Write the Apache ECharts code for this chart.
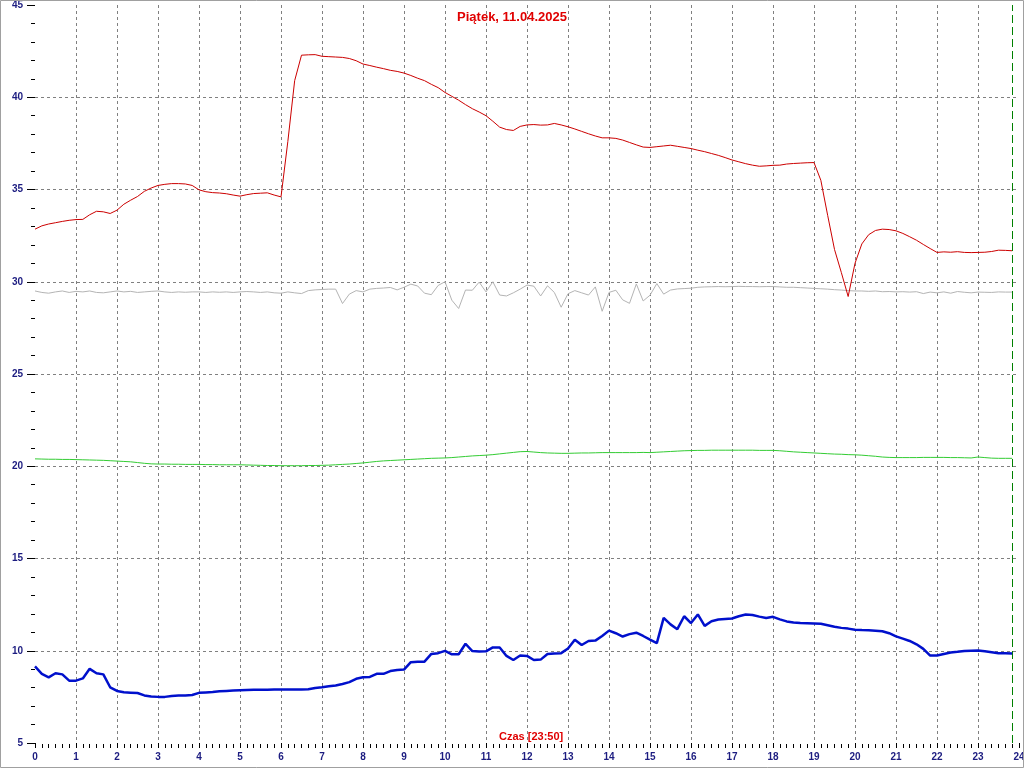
<!DOCTYPE html>
<html>
<head>
<meta charset="utf-8">
<script src="https://cdn.jsdelivr.net/npm/echarts@6/dist/echarts.min.js"></script>
<style>
html,body{margin:0;padding:0;background:#fff}
#c{width:1024px;height:768px}
</style>
</head>
<body>
<div id="c"></div>
<script>
const titleText = 'Piątek, 11.04.2025';
const timeAxisTitle = 'Czas [23:50]';
const unitLabel = '°C';
const stepMinutes = 10;
const nowHour = 23 + 50 / 60;

const redValues = [
32.85,33.03,33.13,33.2,33.27,33.33,
33.37,33.38,33.63,33.82,33.79,33.7,
33.88,34.2,34.42,34.62,34.9,35.08,
35.22,35.28,35.32,35.32,35.3,35.22,
34.98,34.88,34.83,34.81,34.77,34.7,
34.64,34.72,34.78,34.8,34.82,34.7,
34.6,37.6,40.9,42.28,42.3,42.31,
42.22,42.2,42.18,42.16,42.1,41.98,
41.8,41.72,41.63,41.55,41.46,41.4,
41.31,41.18,41.03,40.9,40.7,40.52,
40.26,40.05,39.84,39.6,39.38,39.2,
39.0,38.7,38.38,38.25,38.2,38.42,
38.5,38.52,38.49,38.5,38.58,38.5,
38.4,38.28,38.15,38.02,37.9,37.8,
37.8,37.77,37.68,37.55,37.42,37.3,
37.28,37.32,37.36,37.4,37.34,37.28,
37.22,37.13,37.05,36.95,36.85,36.73,
36.6,36.5,36.4,36.32,36.26,36.28,
36.31,36.32,36.38,36.41,36.43,36.45,
36.46,35.5,33.6,31.75,30.5,29.2,
31.0,32.05,32.55,32.78,32.85,32.83,
32.76,32.62,32.44,32.25,32.02,31.8,
31.59,31.62,31.6,31.63,31.59,31.58,
31.59,31.6,31.64,31.71,31.7,31.68
];

const grayValues = [
29.5,29.42,29.38,29.45,29.5,29.42,
29.48,29.45,29.5,29.42,29.4,29.45,
29.5,29.45,29.48,29.42,29.45,29.48,
29.5,29.45,29.42,29.45,29.43,29.45,
29.45,29.42,29.45,29.43,29.45,29.42,
29.45,29.47,29.45,29.42,29.45,29.4,
29.38,29.45,29.4,29.36,29.52,29.56,
29.58,29.6,29.6,28.82,29.33,29.52,
29.45,29.6,29.64,29.66,29.69,29.56,
29.7,29.87,29.77,29.38,29.3,29.8,
30.0,29.0,28.55,29.55,29.54,29.98,
29.45,30.0,29.28,29.23,29.4,29.6,
29.82,29.76,29.23,29.78,29.42,28.62,
29.35,29.52,29.4,29.28,29.72,28.4,
29.42,29.54,29.02,28.83,29.88,28.96,
29.27,29.9,29.33,29.55,29.61,29.63,
29.65,29.7,29.72,29.73,29.74,29.73,
29.74,29.75,29.74,29.74,29.73,29.74,
29.74,29.72,29.7,29.7,29.68,29.66,
29.64,29.62,29.6,29.57,29.55,29.52,
29.5,29.5,29.48,29.5,29.46,29.47,
29.45,29.46,29.44,29.46,29.36,29.44,
29.4,29.45,29.38,29.47,29.43,29.4,
29.44,29.43,29.42,29.45,29.44,29.44
];

const greenValues = [
20.40,20.39,20.38,20.38,20.37,20.37,
20.36,20.35,20.34,20.33,20.32,20.30,
20.28,20.26,20.24,20.20,20.16,20.13,
20.12,20.12,20.11,20.11,20.10,20.10,
20.10,20.09,20.09,20.08,20.08,20.08,
20.08,20.07,20.06,20.05,20.04,20.04,
20.03,20.03,20.03,20.03,20.04,20.04,
20.05,20.06,20.08,20.10,20.12,20.15,
20.18,20.22,20.26,20.29,20.31,20.33,
20.35,20.37,20.39,20.41,20.43,20.44,
20.45,20.47,20.50,20.53,20.56,20.58,
20.60,20.63,20.67,20.71,20.75,20.79,
20.80,20.77,20.74,20.72,20.71,20.70,
20.70,20.71,20.72,20.72,20.73,20.74,
20.74,20.74,20.74,20.74,20.74,20.75,
20.74,20.76,20.78,20.80,20.82,20.84,
20.85,20.86,20.86,20.87,20.87,20.87,
20.87,20.87,20.87,20.87,20.86,20.86,
20.86,20.84,20.81,20.78,20.76,20.74,
20.72,20.70,20.68,20.66,20.65,20.63,
20.62,20.60,20.57,20.54,20.50,20.48,
20.47,20.47,20.47,20.47,20.48,20.48,
20.48,20.48,20.47,20.47,20.46,20.45,
20.50,20.47,20.44,20.43,20.43,20.43
];

const blueValues = [
9.15,8.75,8.56,8.78,8.72,8.38,
8.38,8.5,9.02,8.78,8.72,8.02,
7.82,7.75,7.73,7.71,7.58,7.52,
7.5,7.5,7.55,7.57,7.57,7.6,
7.72,7.74,7.76,7.8,7.82,7.84,
7.86,7.87,7.88,7.88,7.89,7.9,
7.9,7.9,7.9,7.9,7.91,7.98,
8.02,8.07,8.12,8.2,8.3,8.48,
8.56,8.58,8.75,8.75,8.9,8.96,
8.98,9.38,9.41,9.41,9.83,9.87,
9.99,9.81,9.81,10.38,9.98,9.96,
9.97,10.18,10.18,9.72,9.5,9.74,
9.72,9.5,9.52,9.82,9.85,9.87,
10.12,10.6,10.31,10.53,10.55,10.8,
11.09,10.95,10.77,10.9,10.98,10.8,
10.6,10.41,11.78,11.43,11.17,11.87,
11.5,11.97,11.35,11.6,11.69,11.72,
11.75,11.87,11.96,11.94,11.85,11.78,
11.84,11.7,11.59,11.53,11.5,11.49,
11.48,11.46,11.38,11.3,11.24,11.2,
11.14,11.12,11.11,11.09,11.06,10.95,
10.78,10.66,10.53,10.35,10.1,9.74,
9.74,9.82,9.9,9.94,9.99,10.0,
10.01,9.97,9.92,9.87,9.86,9.85
];

const times = redValues.map((_, i) => i * stepMinutes / 60);
const pairs = arr => arr.map((v, i) => [times[i], v]);

const navy = '#1c1c80';
const labelFont = { color: navy, fontWeight: 'bold', fontSize: 10, fontFamily: 'Liberation Sans, Arial, sans-serif' };
const gridDash = { color: '#808080', type: [3, 3], width: 1 };

const chart = echarts.init(document.getElementById('c'), null, { renderer: 'canvas' });
chart.setOption({
  animation: false,
  backgroundColor: '#ffffff',
  title: [
    { text: titleText, left: 'center', top: 11, padding: 0,
      textStyle: { color: '#e00000', fontSize: 13, fontWeight: 'bold', fontFamily: 'Liberation Sans, Arial, sans-serif' } },
    { text: timeAxisTitle, left: 499, top: 731, padding: 0,
      textStyle: { color: '#e00000', fontSize: 11, fontWeight: 'bold', fontFamily: 'Liberation Sans, Arial, sans-serif' } }
  ],
  graphic: [
    { type: 'rect', shape: { x: 0.5, y: 0.5, width: 1023, height: 767 },
      style: { fill: null, stroke: '#a0a0a0', lineWidth: 1 }, silent: true, z: 100 }
  ],
  grid: { left: 35, right: 5, top: 5, bottom: 25, containLabel: false, outerBoundsMode: 'none' },
  xAxis: {
    type: 'value', min: 0, max: 24, interval: 1, offset: 5,
    axisLine: { show: false },
    axisTick: { show: true, inside: true, length: 5, lineStyle: { color: '#000', width: 1 } },
    minorTick: { show: true, splitNumber: 6, length: 4, lineStyle: { color: '#000', width: 1 } },
    axisLabel: Object.assign({ margin: 4 }, labelFont),
    splitLine: { show: true, showMinLine: false, showMaxLine: false, lineStyle: gridDash }
  },
  yAxis: {
    type: 'value', min: 5, max: 45, interval: 5, offset: 1,
    name: unitLabel, nameLocation: 'middle', nameRotate: 90, nameGap: 24,
    nameTextStyle: { color: '#e00000', fontSize: 12, fontWeight: 'bold', fontFamily: 'Liberation Sans, Arial, sans-serif' },
    axisLine: { show: false },
    axisTick: { show: true, length: 8, lineStyle: { color: '#000', width: 1 } },
    minorTick: { show: true, splitNumber: 5, length: 4, lineStyle: { color: '#000', width: 1 } },
    axisLabel: Object.assign({ margin: 11 }, labelFont),
    splitLine: { show: true, showMinLine: false, showMaxLine: false, lineStyle: gridDash }
  },
  series: [
    { type: 'line', data: pairs(grayValues), showSymbol: false, symbol: 'none',
      lineStyle: { color: '#b4b4b4', width: 1 }, z: 2 },
    { type: 'line', data: pairs(greenValues), showSymbol: false, symbol: 'none',
      lineStyle: { color: '#33cc33', width: 1 }, z: 3 },
    { type: 'line', data: pairs(redValues), showSymbol: false, symbol: 'none',
      lineStyle: { color: '#cc0000', width: 1 }, z: 4 },
    { type: 'line', data: pairs(blueValues), showSymbol: false, symbol: 'none',
      lineStyle: { color: '#0010cc', width: 2.5 }, z: 5,
      markLine: { silent: true, symbol: 'none', label: { show: false },
        lineStyle: { color: '#008000', type: [8, 4], width: 1 },
        data: [{ xAxis: nowHour }] } }
  ]
});
</script>
</body>
</html>
